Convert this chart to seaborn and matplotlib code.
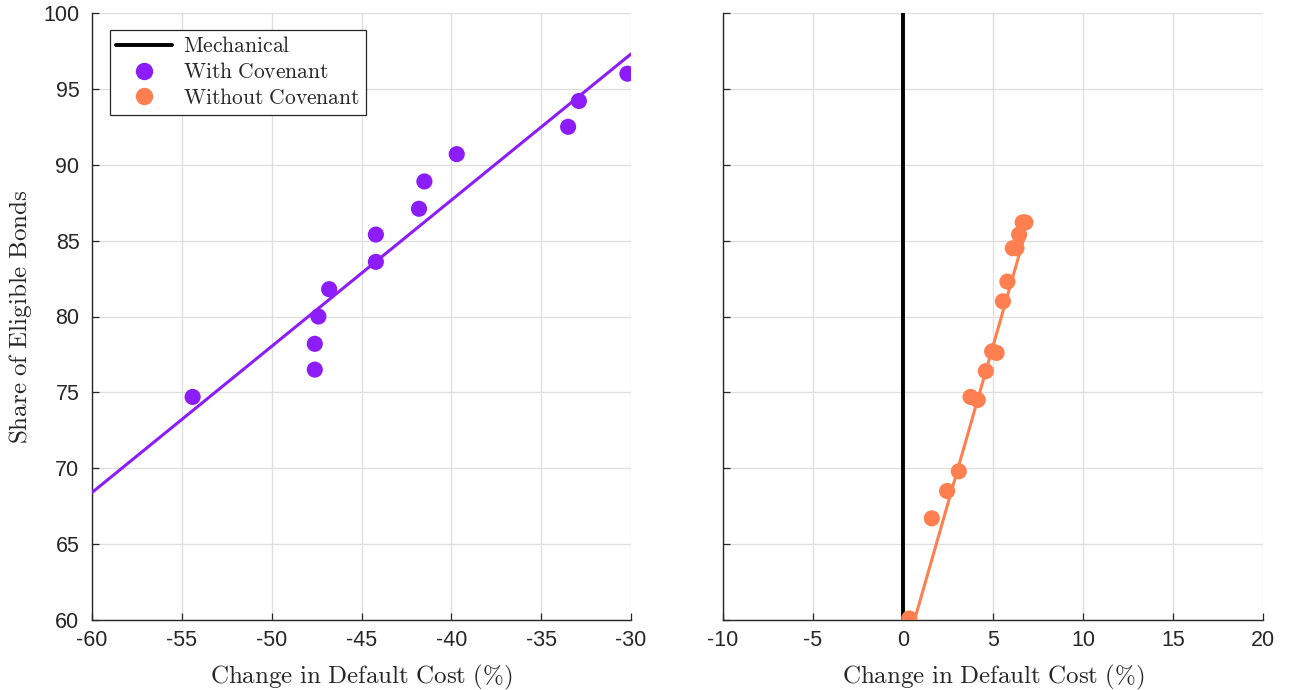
import matplotlib
matplotlib.use("Agg")
import numpy as np
import pandas as pd
import seaborn as sns
import matplotlib.pyplot as plt
from matplotlib.lines import Line2D

# binned scatter, with covenant (left panel)
with_x = [-54.4, -47.6, -47.6, -47.4, -46.8, -44.2, -44.2, -41.8, -41.5, -39.7, -33.5, -32.9, -30.2]
with_y = [74.7, 76.5, 78.2, 80.0, 81.8, 83.6, 85.4, 87.1, 88.9, 90.7, 92.5, 94.2, 96.0]
with_fit_x = [-60, -30]
with_fit_y = [68.4, 97.3]

# binned scatter, without covenant (right panel)
without_x = [0.35, 1.6, 2.45, 3.1, 3.75, 4.15, 4.6, 4.95, 5.2, 5.55, 5.8, 6.1, 6.3, 6.45, 6.65, 6.8]
without_y = [60.1, 66.7, 68.5, 69.8, 74.7, 74.5, 76.4, 77.7, 77.6, 81.0, 82.3, 84.5, 84.5, 85.4, 86.2, 86.2]
without_fit_x = [0.35, 6.8]
without_fit_y = [58.8, 85.5]

mech_x = [0, 0]
mech_y = [60, 100]

purple = "#8C1CF8"
orange = "#FF7F50"

sns.set_theme(style="whitegrid")
plt.rcParams["mathtext.fontset"] = "cm"
plt.rcParams["axes.unicode_minus"] = False
plt.rcParams["font.family"] = ["Liberation Sans", "DejaVu Sans"]

fig = plt.figure(figsize=(12.95, 6.9), dpi=100)
ax1 = fig.add_axes([92 / 1295, 70 / 690, 539 / 1295, 607 / 690])
ax2 = fig.add_axes([723 / 1295, 70 / 690, 540 / 1295, 607 / 690])

df_w = pd.DataFrame({"x": with_x, "y": with_y})
df_wf = pd.DataFrame({"x": with_fit_x, "y": with_fit_y})
df_n = pd.DataFrame({"x": without_x, "y": without_y})
df_nf = pd.DataFrame({"x": without_fit_x, "y": without_fit_y})
df_m = pd.DataFrame({"x": mech_x, "y": mech_y})

sns.lineplot(data=df_wf, x="x", y="y", ax=ax1, color=purple, lw=2.2, zorder=3)
sns.scatterplot(data=df_w, x="x", y="y", ax=ax1, color=purple, s=135, edgecolor="none", zorder=4)

sns.lineplot(data=df_m, x="x", y="y", ax=ax2, color="black", lw=2.8, estimator=None,
             sort=False, zorder=3)
sns.lineplot(data=df_nf, x="x", y="y", ax=ax2, color=orange, lw=2.2, zorder=3)
sns.scatterplot(data=df_n, x="x", y="y", ax=ax2, color=orange, s=135, edgecolor="none", zorder=4)

lab_font = {"fontsize": 18}
for ax, xlim in [(ax1, (-60, -30)), (ax2, (-10, 20))]:
    ax.set_xlim(*xlim)
    ax.set_ylim(60, 100)
    ax.set_xticks(np.arange(xlim[0], xlim[1] + 1, 5))
    ax.set_yticks(np.arange(60, 101, 5))
    ax.set_facecolor("white")
    ax.grid(True, color="#dedede", lw=0.9)
    for s in ["top", "right"]:
        ax.spines[s].set_visible(False)
    for s in ["left", "bottom"]:
        ax.spines[s].set_visible(True)
        ax.spines[s].set_color("#262626")
        ax.spines[s].set_linewidth(1.0)
    ax.tick_params(axis="both", direction="in", length=5, width=0.9, colors="#262626",
                   labelsize=15.5, labelcolor="#262626", left=True, bottom=True)
    ax.tick_params(axis="x", pad=7)
    ax.tick_params(axis="y", pad=9)
    ax.set_xlabel(r"$\mathrm{Change\ in\ Default\ Cost\ (\%)}$", **lab_font, labelpad=9)
    ax.set_ylabel("")

ax1.set_ylabel(r"$\mathrm{Share\ of\ Eligible\ Bonds}$", **lab_font, labelpad=7)
ax2.tick_params(axis="y", labelleft=False)

handles = [
    Line2D([0], [0], color="black", lw=2.8),
    Line2D([0], [0], marker="o", color=purple, lw=0, markersize=11.5),
    Line2D([0], [0], marker="o", color=orange, lw=0, markersize=11.5),
]
labels = [r"$\mathrm{Mechanical}$", r"$\mathrm{With\ Covenant}$", r"$\mathrm{Without\ Covenant}$"]
leg = ax1.legend(handles, labels, loc="upper left", bbox_to_anchor=(0.033, 0.972),
                 fontsize=15.5, frameon=True, fancybox=False, framealpha=1,
                 edgecolor="#262626", borderpad=0.3, labelspacing=0.22,
                 handlelength=2.6, handletextpad=0.5, borderaxespad=0)
leg.get_frame().set_linewidth(0.9)

fig.savefig("out.png", dpi=100)
